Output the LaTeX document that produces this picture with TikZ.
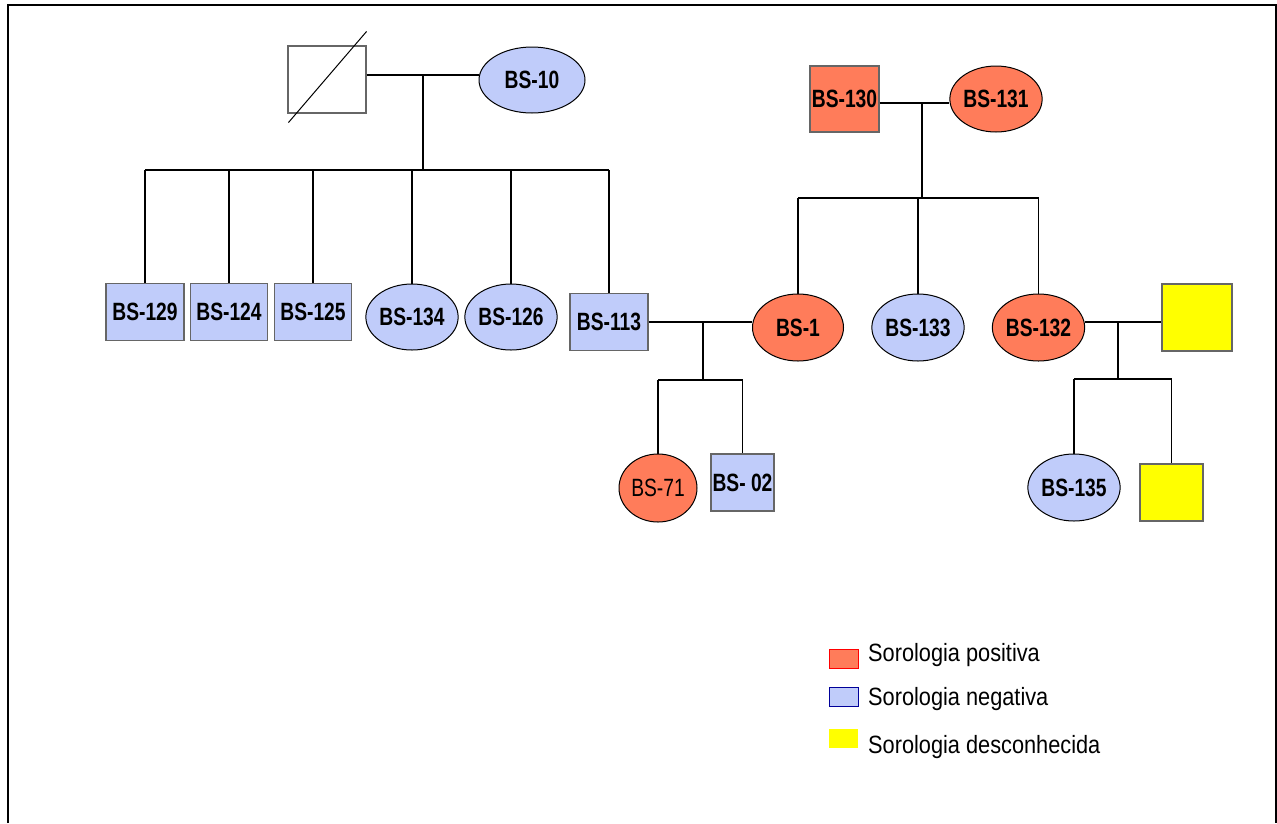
\documentclass[tikz,border=0pt]{standalone}
\usepackage{fontspec}
\setmainfont{Liberation Sans}[FakeStretch=0.87]
\newfontfamily\labelfont{Liberation Sans}[FakeStretch=0.77]
\usetikzlibrary{shapes.geometric}

\definecolor{posred}{RGB}{255,124,90}
\definecolor{negblue}{RGB}{192,204,250}
\definecolor{unkyellow}{RGB}{255,255,0}

\tikzset{
  male/.style={rectangle, draw=black!60, line width=1.2pt, inner sep=0pt,
    font=\labelfont\bfseries\fontsize{25}{30}\selectfont},
  female/.style={ellipse, draw=black, line width=1pt, inner sep=0pt,
    font=\labelfont\bfseries\fontsize{25}{30}\selectfont},
  posfill/.style={fill=posred},
  negfill/.style={fill=negblue},
  unkfill/.style={fill=unkyellow},
  link/.style={line width=1.3pt},
  sib/.style={line width=2.2pt},
  legbox/.style={rectangle, inner sep=0pt, line width=1pt, minimum width=29pt, minimum height=19pt},
  legtext/.style={anchor=base west, inner sep=0pt, font=\fontsize{25}{30}\selectfont}
}

\begin{document}
\begin{tikzpicture}[x=1pt,y=-1pt]

\useasboundingbox (0,0) rectangle (1277,823);

% Frame
\draw[line width=2pt] (8,823) -- (8,5) -- (1276,5) -- (1276,823);

% First generation, left family
\node[male, fill=white, minimum width=78pt, minimum height=67pt] (f0) at (327,79.5) {};
\draw[line width=1pt] ([shift={(1,9)}]f0.south west) -- ([shift={(0,-14)}]f0.north east);
\node[female, negfill, minimum width=106pt, minimum height=66pt] (bs10) at (532,80) {BS-10};

% First generation, right family
\node[male, posfill, minimum width=69pt, minimum height=66pt] (bs130) at (844.5,99) {BS-130};
\node[female, posfill, minimum width=90pt, minimum height=66pt] (bs131) at (996,99) {BS-131};

% Second generation
\node[male, negfill, minimum width=78pt, minimum height=57pt] (bs129) at (145,312) {BS-129};
\node[male, negfill, minimum width=77pt, minimum height=57pt] (bs124) at (229,312) {BS-124};
\node[male, negfill, minimum width=77pt, minimum height=57pt] (bs125) at (313,312) {BS-125};
\node[female, negfill, minimum width=90pt, minimum height=66pt] (bs134) at (412,317) {BS-134};
\node[female, negfill, minimum width=90pt, minimum height=66pt] (bs126) at (511,317) {BS-126};
\node[male, negfill, minimum width=78pt, minimum height=57pt] (bs113) at (609,322) {BS-113};
\node[female, posfill, minimum width=91pt, minimum height=67pt] (bs1) at (798,327.5) {BS-1};
\node[female, negfill, minimum width=90pt, minimum height=67pt] (bs133) at (918,327.5) {BS-133};
\node[female, posfill, minimum width=91pt, minimum height=67pt] (bs132) at (1038.5,327.5) {BS-132};
\node[male, unkfill, minimum width=70pt, minimum height=67pt] (y1) at (1197,317.5) {};

% Third generation
\node[female, posfill, minimum width=78pt, minimum height=68pt, font=\labelfont\fontsize{25}{30}\selectfont] (bs71) at (658,488) {BS-71};
\node[male, negfill, minimum width=63pt, minimum height=57pt] (bs02) at (742.5,482.5) {BS- 02};
\node[female, negfill, minimum width=78pt, minimum height=67pt] (bs135) at (1074,487.5) {BS-135};
\node[male, unkfill, minimum width=63pt, minimum height=57pt] (y2) at (1171.5,492.5) {};

% Couples and sibships
\coordinate (c1) at (423,75);
\coordinate (s1) at (423,170);
\draw[link] (f0.east |- c1) -- (bs10.west |- c1);
\draw[link] (c1) -- (s1);
\draw[sib] (bs129.north |- s1) -- (bs113.north |- s1);
\foreach \k in {bs129,bs124,bs125,bs134,bs126,bs113}
  \draw[link] (\k.north |- s1) -- (\k.north);

\coordinate (c2) at (922,103);
\coordinate (s2) at (922,198);
\draw[sib] (bs130.east |- c2) -- (bs131.west |- c2);
\draw[link] (c2) -- (s2);
\draw[sib] (bs1.north |- s2) -- (bs132.north |- s2);
\foreach \k in {bs1,bs133,bs132}
  \draw[link] (\k.north |- s2) -- (\k.north);

\coordinate (c3) at (703,322);
\coordinate (s3) at (703,380);
\draw[sib] (bs113.east |- c3) -- (bs1.west |- c3);
\draw[link] (c3) -- (s3);
\draw[sib] (bs71.north |- s3) -- (bs02.north |- s3);
\foreach \k in {bs71,bs02}
  \draw[link] (\k.north |- s3) -- (\k.north);

\coordinate (c4) at (1118,322);
\coordinate (s4) at (1118,379);
\draw[sib] (bs132.east |- c4) -- (y1.west |- c4);
\draw[link] (c4) -- (s4);
\draw[sib] (bs135.north |- s4) -- (y2.north |- s4);
\foreach \k in {bs135,y2}
  \draw[link] (\k.north |- s4) -- (\k.north);

% Legend
\node[legbox, fill=posred, draw=red] (lpos) at (843.5,658.5) {};
\node[legbox, fill=negblue, draw=blue!60!black] (lneg) at (843.5,696.5) {};
\node[legbox, fill=unkyellow] (lunk) at (843.5,738.5) {};
\node[legtext] (tpos) at (868,661) {Sorologia positiva};
\node[legtext] (tneg) at (868,705) {Sorologia negativa};
\node[legtext] (tunk) at (868,753) {Sorologia desconhecida};

\end{tikzpicture}
\end{document}
